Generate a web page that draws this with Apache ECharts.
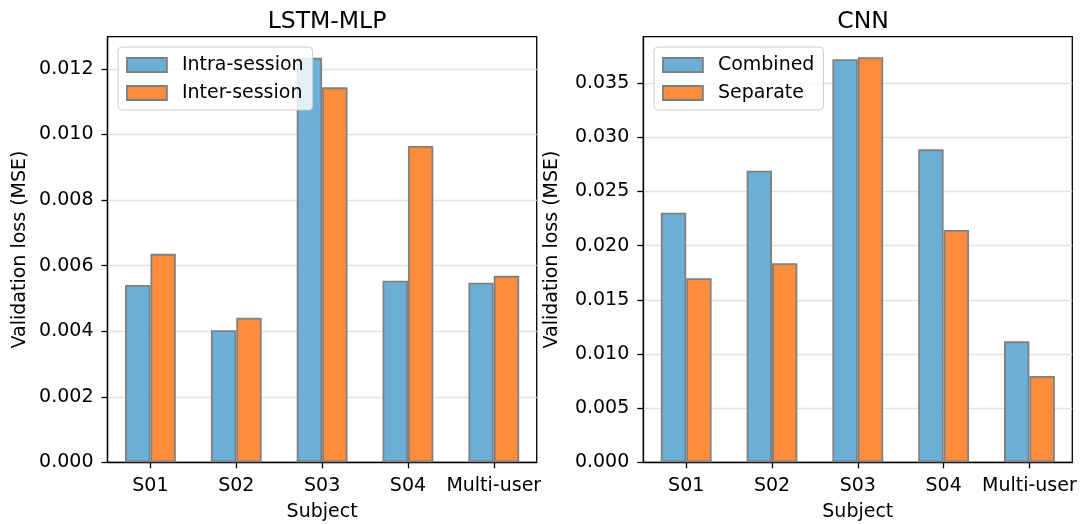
<!DOCTYPE html>
<html>
<head>
<meta charset="utf-8">
<script src="https://cdn.jsdelivr.net/npm/echarts@6/dist/echarts.min.js"></script>
<style>
  html, body { margin: 0; padding: 0; background: #fff; }
  #chart { width: 1080px; height: 524px; }
</style>
</head>
<body>
<div id="chart"></div>
<script>
// Validation loss per subject for two model families
const subjects = ['S01', 'S02', 'S03', 'S04', 'Multi-user'];

const lstmIntra = [0.00541, 0.00403, 0.01234, 0.00554, 0.00548];
const lstmInter = [0.00636, 0.00441, 0.01144, 0.00965, 0.00569];

const cnnCombined = [0.02305, 0.02693, 0.03722, 0.02890, 0.01117];
const cnnSeparate = [0.01699, 0.01838, 0.03740, 0.02145, 0.00797];

const lstmTicks = [0, 0.002, 0.004, 0.006, 0.008, 0.010, 0.012];
const cnnTicks = [0, 0.005, 0.010, 0.015, 0.020, 0.025, 0.030, 0.035];

const FONT = 'DejaVu Sans';
const BLUE = '#6baed6';
const ORANGE = '#fd8d3c';
const EDGE = '#808080';

const chart = echarts.init(document.getElementById('chart'), null, { renderer: 'canvas' });

function xAxisFor(gridIndex) {
  return {
    type: 'category',
    gridIndex: gridIndex,
    data: subjects,
    name: 'Subject',
    nameLocation: 'middle',
    nameGap: 40,
    nameTextStyle: { fontFamily: FONT, fontSize: 19, color: '#000' },
    axisLine: { show: true, lineStyle: { color: '#000', width: 1.3 } },
    axisTick: { show: true, alignWithLabel: true, length: 6, lineStyle: { color: '#000', width: 1.3 } },
    axisLabel: { fontFamily: FONT, fontSize: 19, color: '#000', margin: 14, interval: 0 },
    splitLine: { show: false }
  };
}

function yAxisFor(gridIndex, ticks, max, step, gap) {
  return {
    type: 'value',
    gridIndex: gridIndex,
    min: 0,
    max: max,
    interval: step,
    name: 'Validation loss (MSE)',
    nameLocation: 'middle',
    nameGap: gap,
    nameRotate: 90,
    nameTextStyle: { fontFamily: FONT, fontSize: 19, color: '#000' },
    axisLine: { show: true, lineStyle: { color: '#000', width: 1.3 } },
    axisTick: { show: true, length: 6, customValues: ticks, lineStyle: { color: '#000', width: 1.3 } },
    axisLabel: {
      fontFamily: FONT, fontSize: 19, color: '#000', margin: 14,
      customValues: ticks,
      formatter: v => v.toFixed(3)
    },
    splitLine: { show: true, lineStyle: { color: '#e2e2e2', width: 1.3 } }
  };
}

function barSeries(name, data, color, axisIndex) {
  return {
    type: 'bar',
    name: name,
    data: data,
    xAxisIndex: axisIndex,
    yAxisIndex: axisIndex,
    barWidth: 25.4,
    barGap: '0%',
    itemStyle: { color: color, borderColor: EDGE, borderWidth: 1.8 }
  };
}

function legendFor(names, left) {
  return {
    orient: 'vertical',
    left: left,
    top: 47,
    data: names,
    icon: 'rect',
    itemWidth: 40,
    itemHeight: 14,
    itemGap: 8,
    padding: [8, 9, 7, 8],
    backgroundColor: 'rgba(255,255,255,0.8)',
    borderColor: '#cccccc',
    borderWidth: 1,
    borderRadius: 4,
    itemStyle: { borderColor: EDGE, borderWidth: 1.8 },
    textStyle: { fontFamily: FONT, fontSize: 19, color: '#000', lineHeight: 20, padding: [0, 0, 0, 10] },
    selectedMode: false
  };
}

const gridBase = {
  top: 36.7, height: 425.6, show: true,
  borderColor: '#000', borderWidth: 1.3, backgroundColor: 'transparent',
  containLabel: false, outerBoundsMode: 'none'
};

const option = {
  animation: false,
  backgroundColor: '#fff',
  title: [
    { text: 'LSTM-MLP', left: 322, top: 5, textAlign: 'center',
      textStyle: { fontFamily: FONT, fontSize: 23.5, fontWeight: 'normal', color: '#000' } },
    { text: 'CNN', left: 858, top: 5, textAlign: 'center',
      textStyle: { fontFamily: FONT, fontSize: 23.5, fontWeight: 'normal', color: '#000' } }
  ],
  grid: [
    Object.assign({ left: 107.5, width: 429.2 }, gridBase),
    Object.assign({ left: 643.3, width: 429 }, gridBase)
  ],
  legend: [
    legendFor(['Intra-session', 'Inter-session'], 118),
    legendFor(['Combined', 'Separate'], 654)
  ],
  xAxis: [xAxisFor(0), xAxisFor(1)],
  yAxis: [
    yAxisFor(0, lstmTicks, 0.012986, 0.002, 78),
    yAxisFor(1, cnnTicks, 0.0393, 0.005, 82)
  ],
  series: [
    barSeries('Intra-session', lstmIntra, BLUE, 0),
    barSeries('Inter-session', lstmInter, ORANGE, 0),
    barSeries('Combined', cnnCombined, BLUE, 1),
    barSeries('Separate', cnnSeparate, ORANGE, 1)
  ]
};

chart.setOption(option);
</script>
</body>
</html>
